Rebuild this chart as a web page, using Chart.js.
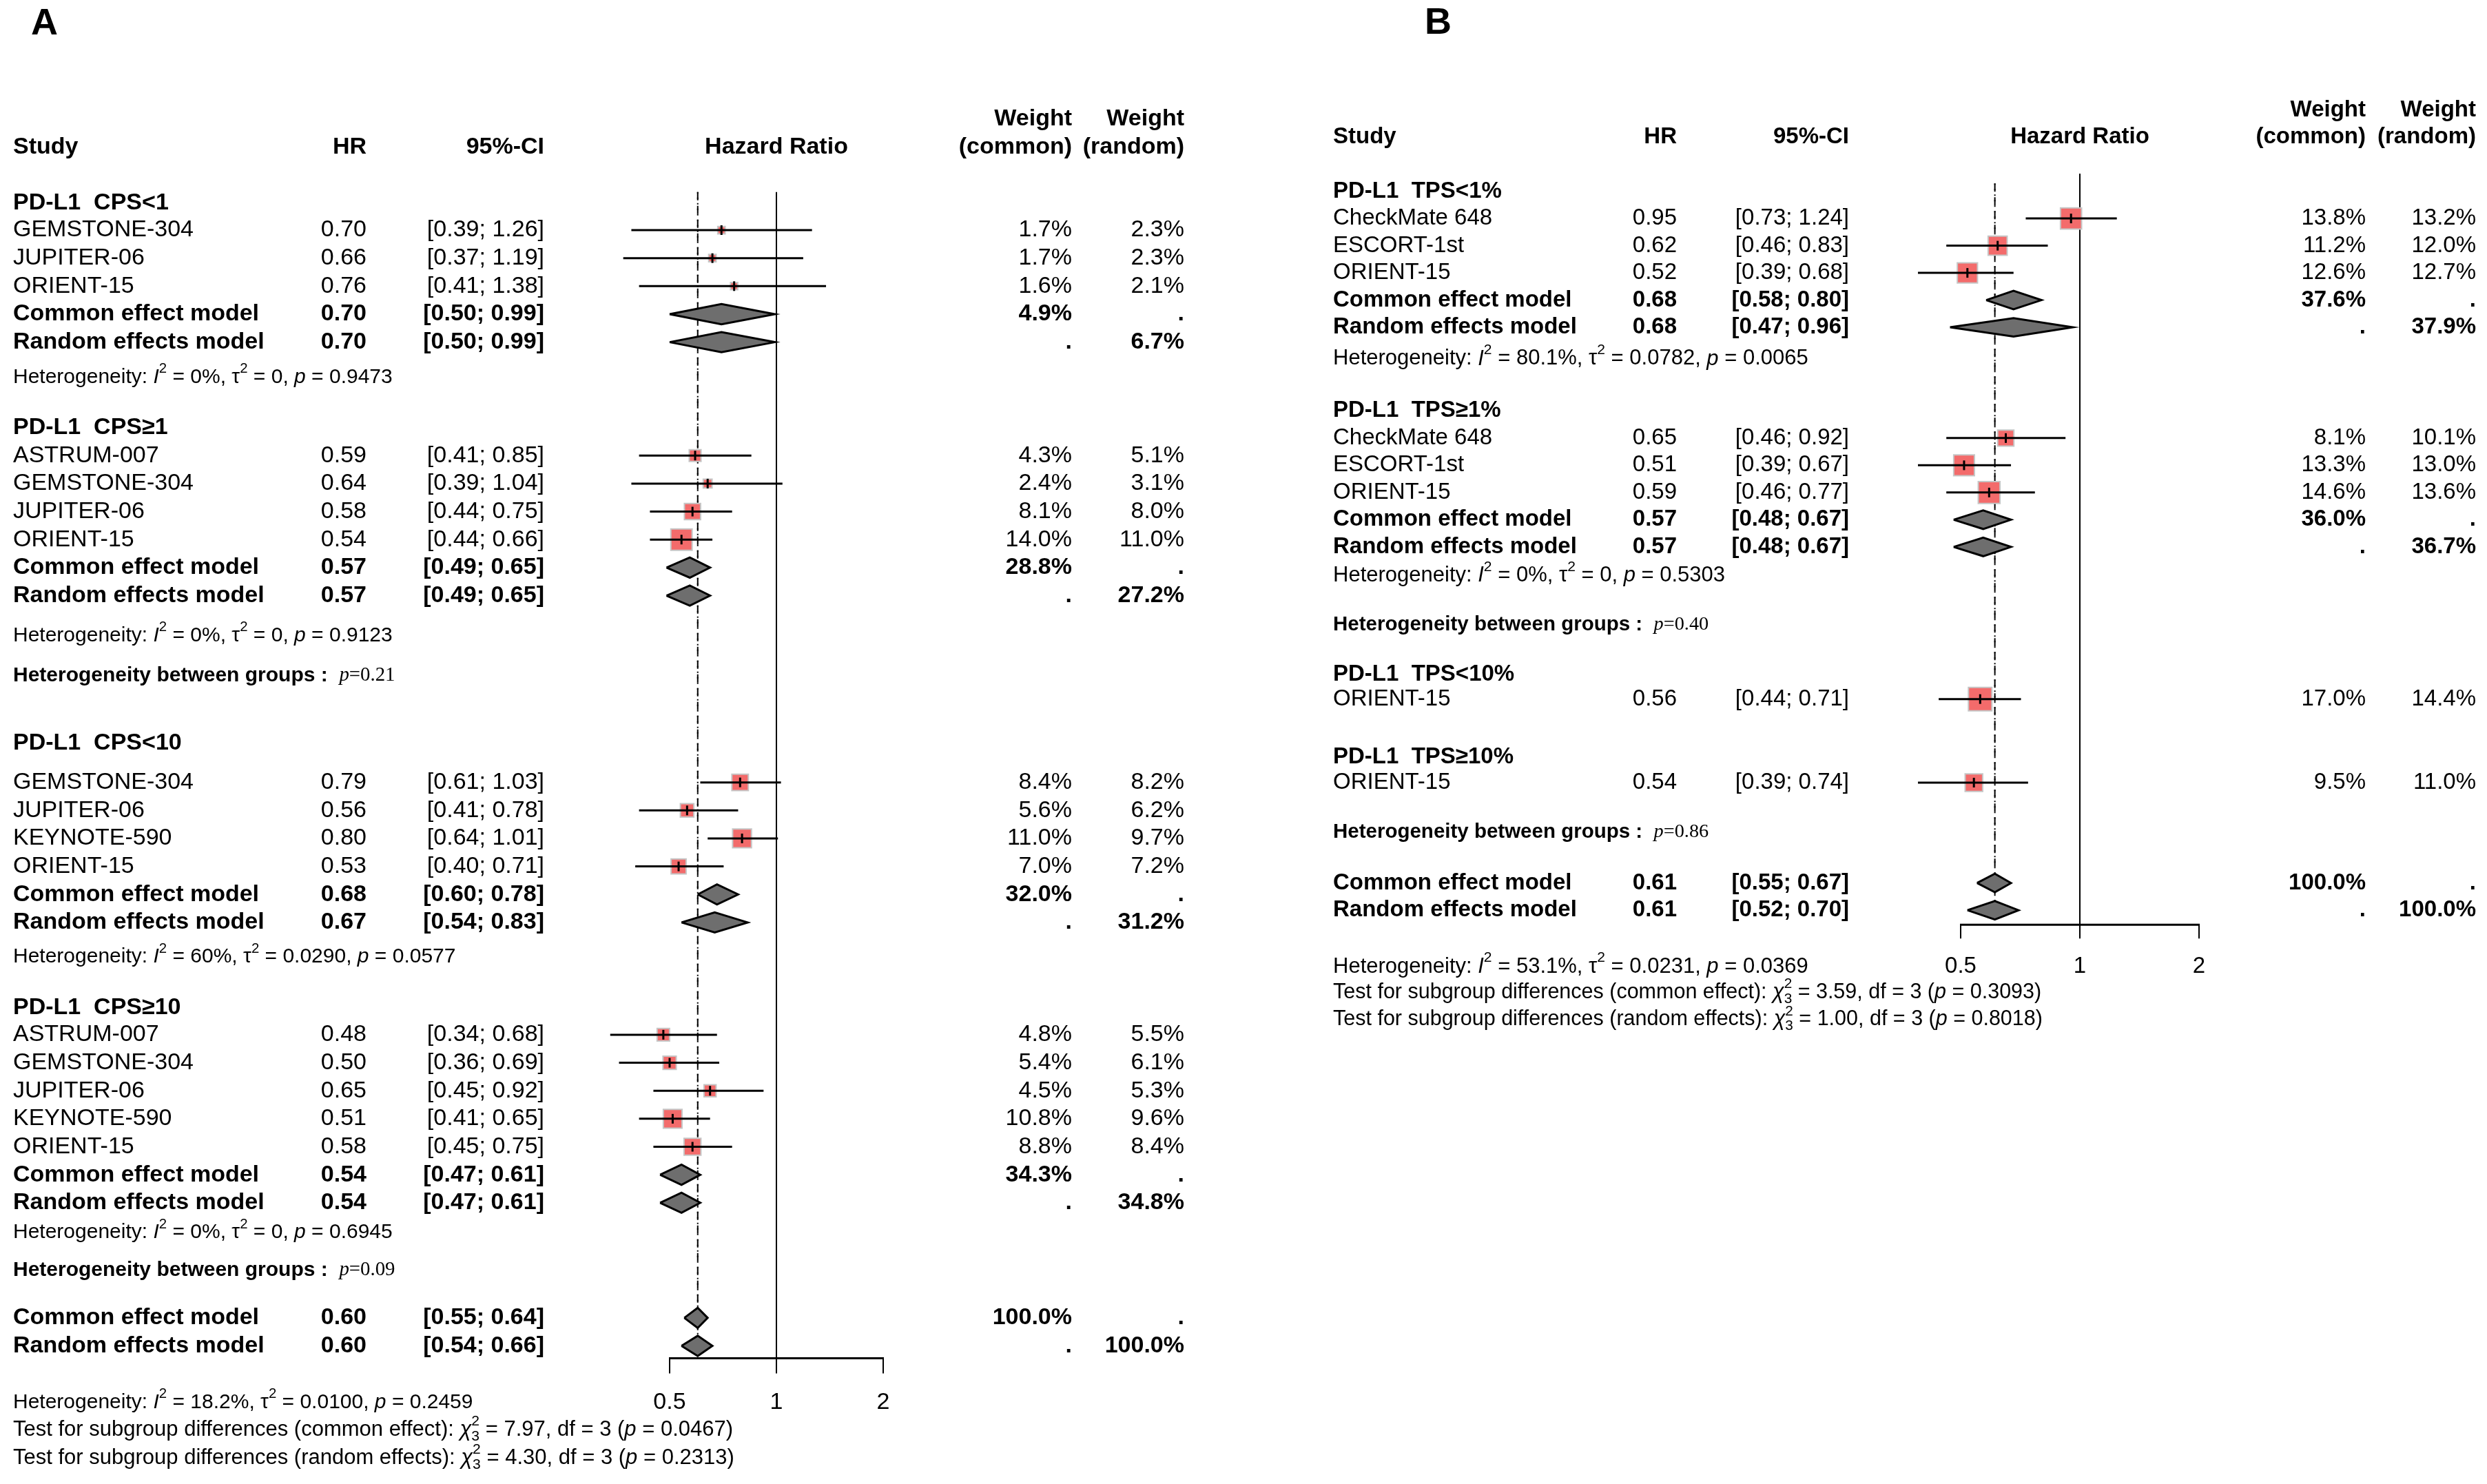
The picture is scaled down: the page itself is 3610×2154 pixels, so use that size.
<!DOCTYPE html>
<html>
<head>
<meta charset="utf-8">
<script src="https://cdn.jsdelivr.net/npm/chart.js@4.4.1/dist/chart.umd.min.js"></script>
<style>
  html, body { margin: 0; padding: 0; background: #fff; }
  body { width: 3610px; height: 2154px; position: relative; overflow: hidden; }
  canvas { position: absolute; left: 0; top: 0; }
</style>
</head>
<body>
<canvas id="panelA" width="3610" height="2154"></canvas>
<canvas id="panelB" width="3610" height="2154"></canvas>
<script>
// Panel A - PD-L1 CPS subgroups
const groupsA = ['PD-L1  CPS<1', 'PD-L1  CPS≥1', 'PD-L1  CPS<10', 'PD-L1  CPS≥10'];
const studiesA = [
    ['GEMSTONE-304', 'JUPITER-06', 'ORIENT-15'],
    ['ASTRUM-007', 'GEMSTONE-304', 'JUPITER-06', 'ORIENT-15'],
    ['GEMSTONE-304', 'JUPITER-06', 'KEYNOTE-590', 'ORIENT-15'],
    ['ASTRUM-007', 'GEMSTONE-304', 'JUPITER-06', 'KEYNOTE-590', 'ORIENT-15'],
];
const hrA = [[0.70, 0.66, 0.76], [0.59, 0.64, 0.58, 0.54], [0.79, 0.56, 0.80, 0.53], [0.48, 0.50, 0.65, 0.51, 0.58]];
const lowerA = [[0.39, 0.37, 0.41], [0.41, 0.39, 0.44, 0.44], [0.61, 0.41, 0.64, 0.40], [0.34, 0.36, 0.45, 0.41, 0.45]];
const upperA = [[1.26, 1.19, 1.38], [0.85, 1.04, 0.75, 0.66], [1.03, 0.78, 1.01, 0.71], [0.68, 0.69, 0.92, 0.65, 0.75]];
const weightCommonA = [[1.7, 1.7, 1.6], [4.3, 2.4, 8.1, 14.0], [8.4, 5.6, 11.0, 7.0], [4.8, 5.4, 4.5, 10.8, 8.8]];
const weightRandomA = [[2.3, 2.3, 2.1], [5.1, 3.1, 8.0, 11.0], [8.2, 6.2, 9.7, 7.2], [5.5, 6.1, 5.3, 9.6, 8.4]];
const commonA = [[0.70, 0.50, 0.99], [0.57, 0.49, 0.65], [0.68, 0.60, 0.78], [0.54, 0.47, 0.61]];
const randomA = [[0.70, 0.50, 0.99], [0.57, 0.49, 0.65], [0.67, 0.54, 0.83], [0.54, 0.47, 0.61]];
const groupWeightCommonA = [4.9, 28.8, 32.0, 34.3];
const groupWeightRandomA = [6.7, 27.2, 31.2, 34.8];
const hetA = [['0%', '0', '0.9473'], ['0%', '0', '0.9123'], ['60%', '0.0290', '0.0577'], ['0%', '0', '0.6945']];
const betweenA = [null, '0.21', null, '0.09'];
const overallCommonA = [0.60, 0.55, 0.64];
const overallRandomA = [0.60, 0.54, 0.66];
const overallHetA = ['18.2%', '0.0100', '0.2459'];
const subgroupTestA = [['7.97', '3', '0.0467'], ['4.30', '3', '0.2313']];
const ticksA = [0.5, 1, 2];

// Panel B - PD-L1 TPS subgroups
const groupsB = ['PD-L1  TPS<1%', 'PD-L1  TPS≥1%', 'PD-L1  TPS<10%', 'PD-L1  TPS≥10%'];
const studiesB = [
    ['CheckMate 648', 'ESCORT-1st', 'ORIENT-15'],
    ['CheckMate 648', 'ESCORT-1st', 'ORIENT-15'],
    ['ORIENT-15'],
    ['ORIENT-15'],
];
const hrB = [[0.95, 0.62, 0.52], [0.65, 0.51, 0.59], [0.56], [0.54]];
const lowerB = [[0.73, 0.46, 0.39], [0.46, 0.39, 0.46], [0.44], [0.39]];
const upperB = [[1.24, 0.83, 0.68], [0.92, 0.67, 0.77], [0.71], [0.74]];
const weightCommonB = [[13.8, 11.2, 12.6], [8.1, 13.3, 14.6], [17.0], [9.5]];
const weightRandomB = [[13.2, 12.0, 12.7], [10.1, 13.0, 13.6], [14.4], [11.0]];
const commonB = [[0.68, 0.58, 0.80], [0.57, 0.48, 0.67], null, null];
const randomB = [[0.68, 0.47, 0.96], [0.57, 0.48, 0.67], null, null];
const groupWeightCommonB = [37.6, 36.0, null, null];
const groupWeightRandomB = [37.9, 36.7, null, null];
const hetB = [['80.1%', '0.0782', '0.0065'], ['0%', '0', '0.5303'], null, null];
const betweenB = [null, '0.40', null, '0.86'];
const overallCommonB = [0.61, 0.55, 0.67];
const overallRandomB = [0.61, 0.52, 0.70];
const overallHetB = ['53.1%', '0.0231', '0.0369'];
const subgroupTestB = [['3.59', '3', '0.3093'], ['1.00', '3', '0.8018']];
const ticksB = [0.5, 1, 2];

const SANS = '"Liberation Sans", Arial, sans-serif';
const SERIF = '"Liberation Serif", "Times New Roman", serif';
const CANVAS_W = 3610;
const CANVAS_H = 2154;

// Layout (pixels / row units), kept apart from the data
const layoutA = {
    title: 'A', titleX: 45, titleY: 50,
    firstRow: 295, rowStep: 40.65,
    cols: { study: 19, hr: 532, ci: 790, wc: 1556, wr: 1719 },
    refPx: 1127, log2Px: 155,
    font: 34, hetFont: 30, testFont: 31, betweenFont: 30,
    headGap: [0, 1.8, 2.41, 1.82], firstGap: [0.96, 0.99, 1.4, 0.96],
    hetGap: [1.26, 1.43, 1.23, 1.06], betweenGap: [0, 1.43, 0, 1.35],
    overallGap: 1.7, axisGap: 0.44, labelGap: 1.58, testGap: [0.98, 1.01],
    refTop: -0.4, dashTop: -0.4, diamondHalf: 0.36, tickLen: 22, squareScale: 8.25,
};
const layoutB = {
    title: 'B', titleX: 2068, titleY: 49,
    firstRow: 278, rowStep: 39.5,
    cols: { study: 1935, hr: 2434, ci: 2684, wc: 3434, wr: 3594 },
    refPx: 3019, log2Px: 173,
    font: 33, hetFont: 31, testFont: 30.5, betweenFont: 29.5,
    headGap: [0, 1.9, 1.82, 2.13], firstGap: [0.99, 1.01, 0.91, 0.94],
    hetGap: [1.16, 1.06, 0, 0], betweenGap: [0, 1.8, 0, 1.82],
    overallGap: 1.87, axisGap: 0.53, labelGap: 1.54, testGap: [0.96, 0.99],
    refTop: -0.66, dashTop: -0.3, diamondHalf: 0.34, tickLen: 20, squareScale: 8.25,
};

const fmt2 = (v) => v.toFixed(2);
const fmtW = (v) => `${v.toFixed(1)}%`;
const fmtCI = (lo, hi) => `[${fmt2(lo)}; ${fmt2(hi)}]`;

const buildRows = (L, D) => {
    const rows = [];
    let y = 0;
    D.groups.forEach((label, g) => {
        if (g > 0) y += L.headGap[g];
        rows.push({ kind: 'group', g, y });
        D.studies[g].forEach((name, i) => {
            y += i === 0 ? L.firstGap[g] : 1;
            rows.push({ kind: 'study', g, i, y });
        });
        if (D.common[g]) {
            y += 1;
            rows.push({ kind: 'common', g, y });
            y += 1;
            rows.push({ kind: 'random', g, y });
        }
        if (D.het[g]) {
            y += L.hetGap[g];
            rows.push({ kind: 'het', g, y });
        }
        if (D.between[g]) {
            y += L.betweenGap[g];
            rows.push({ kind: 'between', g, y });
        }
    });
    y += L.overallGap;
    rows.push({ kind: 'overallCommon', y });
    y += 1;
    rows.push({ kind: 'overallRandom', y });
    const axisY = y + L.axisGap;
    const labelY = axisY + L.labelGap;

    return {
        rows,
        lastModel: y,
        axisY,
        labelY,
        testY: [labelY + L.testGap[0], labelY + L.testGap[0] + L.testGap[1]],
    };
};

const drawRuns = (ctx, runs, x, y, size) => {
    let cx = x;
    ctx.textAlign = 'left';
    runs.forEach(([text, style]) => {
        if (style === 'supsub') {
            ctx.font = `${size * 0.68}px ${SANS}`;
            ctx.fillText(text[0], cx, y - size * 0.4);
            ctx.fillText(text[1], cx, y + size * 0.3);
            cx += Math.max(ctx.measureText(text[0]).width, ctx.measureText(text[1]).width);

            return;
        }
        let dy = 0;
        if (style === 'i') ctx.font = `italic ${size}px ${SANS}`;
        else if (style === 'b') ctx.font = `bold ${size}px ${SANS}`;
        else if (style === 's') ctx.font = `${size * 0.96}px ${SERIF}`;
        else if (style === 'si') ctx.font = `italic ${size * 0.96}px ${SERIF}`;
        else if (style === 'sup') {
            ctx.font = `${size * 0.68}px ${SANS}`;
            dy = -size * 0.4;
        } else ctx.font = `${size}px ${SANS}`;
        ctx.fillText(text, cx, y + dy);
        cx += ctx.measureText(text).width;
    });
};

const hetRuns = (h) => [
    ['Heterogeneity: ', 'n'], ['I', 'i'], ['2', 'sup'], [` = ${h[0]}, `, 'n'],
    ['τ', 'n'], ['2', 'sup'], [` = ${h[1]}, `, 'n'], ['p', 'i'], [` = ${h[2]}`, 'n'],
];
const testRuns = (label, t) => [
    [`Test for subgroup differences (${label}): `, 'n'], ['χ', 'i'], [['2', t[1]], 'supsub'],
    [` = ${t[0]}, df = ${t[1]} (`, 'n'], ['p', 'i'], [` = ${t[2]})`, 'n'],
];

const makePanel = (canvasId, L, D) => {
    const lay = buildRows(L, D);
    const studyRows = lay.rows.filter((r) => r.kind === 'study');
    const estimates = studyRows.map((r) => ({ x: D.hr[r.g][r.i], y: r.y }));
    const datasets = [];

    // reference lines: no effect, common and random overall estimates
    datasets.push({
        data: [{ x: 1, y: L.refTop }, { x: 1, y: lay.axisY }],
        borderColor: '#000', borderWidth: 2, pointRadius: 0, order: 12,
    });
    datasets.push({
        data: [{ x: D.overallCommon[0], y: L.dashTop }, { x: D.overallCommon[0], y: lay.lastModel + 0.3 }],
        borderColor: '#000', borderWidth: 2, borderDash: [12, 8], pointRadius: 0, order: 11,
    });
    datasets.push({
        data: [{ x: D.overallRandom[0], y: L.dashTop }, { x: D.overallRandom[0], y: lay.lastModel + 0.3 }],
        borderColor: '#000', borderWidth: 2, borderDash: [2, 6], pointRadius: 0, order: 11,
    });

    // study squares, sized by common-effect weight
    datasets.push({
        data: estimates,
        showLine: false,
        pointStyle: 'rect',
        pointRadius: studyRows.map((r) => (L.squareScale * Math.sqrt(D.weightCommon[r.g][r.i])) / Math.SQRT2),
        pointBackgroundColor: '#F36B6B',
        pointBorderColor: '#C6C6C6',
        pointBorderWidth: 2,
        order: 8,
    });

    // confidence intervals
    studyRows.forEach((r) => {
        datasets.push({
            data: [{ x: D.lower[r.g][r.i], y: r.y }, { x: D.upper[r.g][r.i], y: r.y }],
            borderColor: '#000', borderWidth: 3, pointRadius: 0, order: 7,
        });
    });

    // point estimate ticks
    datasets.push({
        data: estimates,
        showLine: false,
        pointStyle: 'line',
        pointRotation: 90,
        pointRadius: 7,
        pointBorderColor: '#000',
        pointBorderWidth: 3,
        order: 6,
    });

    // pooled diamonds
    const diamond = (est, y) => ({
        data: [
            { x: est[1], y },
            { x: est[0], y: y - L.diamondHalf },
            { x: est[2], y },
            { x: est[0], y: y + L.diamondHalf },
            { x: est[1], y },
        ],
        fill: 'shape',
        backgroundColor: '#6E6E6E',
        borderColor: '#000',
        borderWidth: 3,
        borderJoinStyle: 'miter',
        pointRadius: 0,
        order: 5,
    });
    lay.rows.forEach((r) => {
        if (r.kind === 'common') datasets.push(diamond(D.common[r.g], r.y));
        if (r.kind === 'random') datasets.push(diamond(D.random[r.g], r.y));
        if (r.kind === 'overallCommon') datasets.push(diamond(D.overallCommon, r.y));
        if (r.kind === 'overallRandom') datasets.push(diamond(D.overallRandom, r.y));
    });

    const textPlugin = {
        id: `forestText${canvasId}`,
        afterDraw(chart) {
            const { ctx } = chart;
            const xs = chart.scales.x;
            const ys = chart.scales.y;
            const py = (v) => ys.getPixelForValue(v);
            const C = L.cols;
            const reg = `${L.font}px ${SANS}`;
            const bold = `bold ${L.font}px ${SANS}`;
            const put = (text, x, y, align, font) => {
                ctx.font = font;
                ctx.textAlign = align;
                ctx.fillText(text, x, y);
            };
            const modelRow = (label, est, wc, wr, y) => {
                put(label, C.study, y, 'left', bold);
                put(fmt2(est[0]), C.hr, y, 'right', bold);
                put(fmtCI(est[1], est[2]), C.ci, y, 'right', bold);
                put(wc, C.wc, y, 'right', bold);
                put(wr, C.wr, y, 'right', bold);
            };

            ctx.save();
            ctx.fillStyle = '#000';
            ctx.textBaseline = 'alphabetic';
            put(L.title, L.titleX, L.titleY, 'left', `bold 54px ${SANS}`);
            ctx.textBaseline = 'middle';

            // column headers
            const h1 = py(-3);
            const h2 = py(-2);
            put('Study', C.study, h2, 'left', bold);
            put('HR', C.hr, h2, 'right', bold);
            put('95%-CI', C.ci, h2, 'right', bold);
            put('Hazard Ratio', xs.getPixelForValue(1), h2, 'center', bold);
            put('Weight', C.wc, h1, 'right', bold);
            put('(common)', C.wc, h2, 'right', bold);
            put('Weight', C.wr, h1, 'right', bold);
            put('(random)', C.wr, h2, 'right', bold);

            lay.rows.forEach((r) => {
                const y = py(r.y);
                if (r.kind === 'group') put(D.groups[r.g], C.study, y, 'left', bold);
                if (r.kind === 'study') {
                    put(D.studies[r.g][r.i], C.study, y, 'left', reg);
                    put(fmt2(D.hr[r.g][r.i]), C.hr, y, 'right', reg);
                    put(fmtCI(D.lower[r.g][r.i], D.upper[r.g][r.i]), C.ci, y, 'right', reg);
                    put(fmtW(D.weightCommon[r.g][r.i]), C.wc, y, 'right', reg);
                    put(fmtW(D.weightRandom[r.g][r.i]), C.wr, y, 'right', reg);
                }
                if (r.kind === 'common') modelRow('Common effect model', D.common[r.g], fmtW(D.groupWeightCommon[r.g]), '.', y);
                if (r.kind === 'random') modelRow('Random effects model', D.random[r.g], '.', fmtW(D.groupWeightRandom[r.g]), y);
                if (r.kind === 'het') drawRuns(ctx, hetRuns(D.het[r.g]), C.study, y, L.hetFont);
                if (r.kind === 'between') {
                    drawRuns(ctx, [['Heterogeneity between groups :  ', 'b'], ['p', 'si'], [`=${D.between[r.g]}`, 's']], C.study, y, L.betweenFont);
                }
                if (r.kind === 'overallCommon') modelRow('Common effect model', D.overallCommon, fmtW(100), '.', y);
                if (r.kind === 'overallRandom') modelRow('Random effects model', D.overallRandom, '.', fmtW(100), y);
            });

            // x axis from the scale
            const ay = py(lay.axisY);
            const first = xs.getPixelForValue(D.ticks[0]);
            const last = xs.getPixelForValue(D.ticks[D.ticks.length - 1]);
            ctx.strokeStyle = '#000';
            ctx.lineWidth = 3;
            ctx.beginPath();
            ctx.moveTo(first - 1, ay);
            ctx.lineTo(last + 1, ay);
            ctx.stroke();
            ctx.lineWidth = 2;
            D.ticks.forEach((t) => {
                const px = xs.getPixelForValue(t);
                ctx.beginPath();
                ctx.moveTo(px, ay);
                ctx.lineTo(px, ay + L.tickLen);
                ctx.stroke();
                put(String(t), px, py(lay.labelY), 'center', reg);
            });

            drawRuns(ctx, hetRuns(D.overallHet), C.study, py(lay.labelY), L.hetFont);
            drawRuns(ctx, testRuns('common effect', D.tests[0]), C.study, py(lay.testY[0]), L.testFont);
            drawRuns(ctx, testRuns('random effects', D.tests[1]), C.study, py(lay.testY[1]), L.testFont);
            ctx.restore();
        },
    };

    // eslint-disable-next-line no-new
    new Chart(document.getElementById(canvasId), {
        type: 'line',
        data: { datasets },
        options: {
            responsive: false,
            animation: false,
            devicePixelRatio: 1,
            events: [],
            layout: { padding: 0, autoPadding: false },
            elements: { line: { tension: 0 } },
            plugins: {
                legend: { display: false },
                tooltip: { enabled: false },
            },
            scales: {
                x: {
                    type: 'logarithmic',
                    display: false,
                    bounds: 'data',
                    min: Math.pow(2, -L.refPx / L.log2Px),
                    max: Math.pow(2, (CANVAS_W - L.refPx) / L.log2Px),
                },
                y: {
                    type: 'linear',
                    display: false,
                    reverse: true,
                    min: -L.firstRow / L.rowStep,
                    max: (CANVAS_H - L.firstRow) / L.rowStep,
                },
            },
        },
        plugins: [textPlugin],
    });
};

makePanel('panelA', layoutA, {
    groups: groupsA, studies: studiesA, hr: hrA, lower: lowerA, upper: upperA,
    weightCommon: weightCommonA, weightRandom: weightRandomA,
    common: commonA, random: randomA,
    groupWeightCommon: groupWeightCommonA, groupWeightRandom: groupWeightRandomA,
    het: hetA, between: betweenA,
    overallCommon: overallCommonA, overallRandom: overallRandomA,
    overallHet: overallHetA, tests: subgroupTestA, ticks: ticksA,
});

makePanel('panelB', layoutB, {
    groups: groupsB, studies: studiesB, hr: hrB, lower: lowerB, upper: upperB,
    weightCommon: weightCommonB, weightRandom: weightRandomB,
    common: commonB, random: randomB,
    groupWeightCommon: groupWeightCommonB, groupWeightRandom: groupWeightRandomB,
    het: hetB, between: betweenB,
    overallCommon: overallCommonB, overallRandom: overallRandomB,
    overallHet: overallHetB, tests: subgroupTestB, ticks: ticksB,
});
</script>
</body>
</html>
